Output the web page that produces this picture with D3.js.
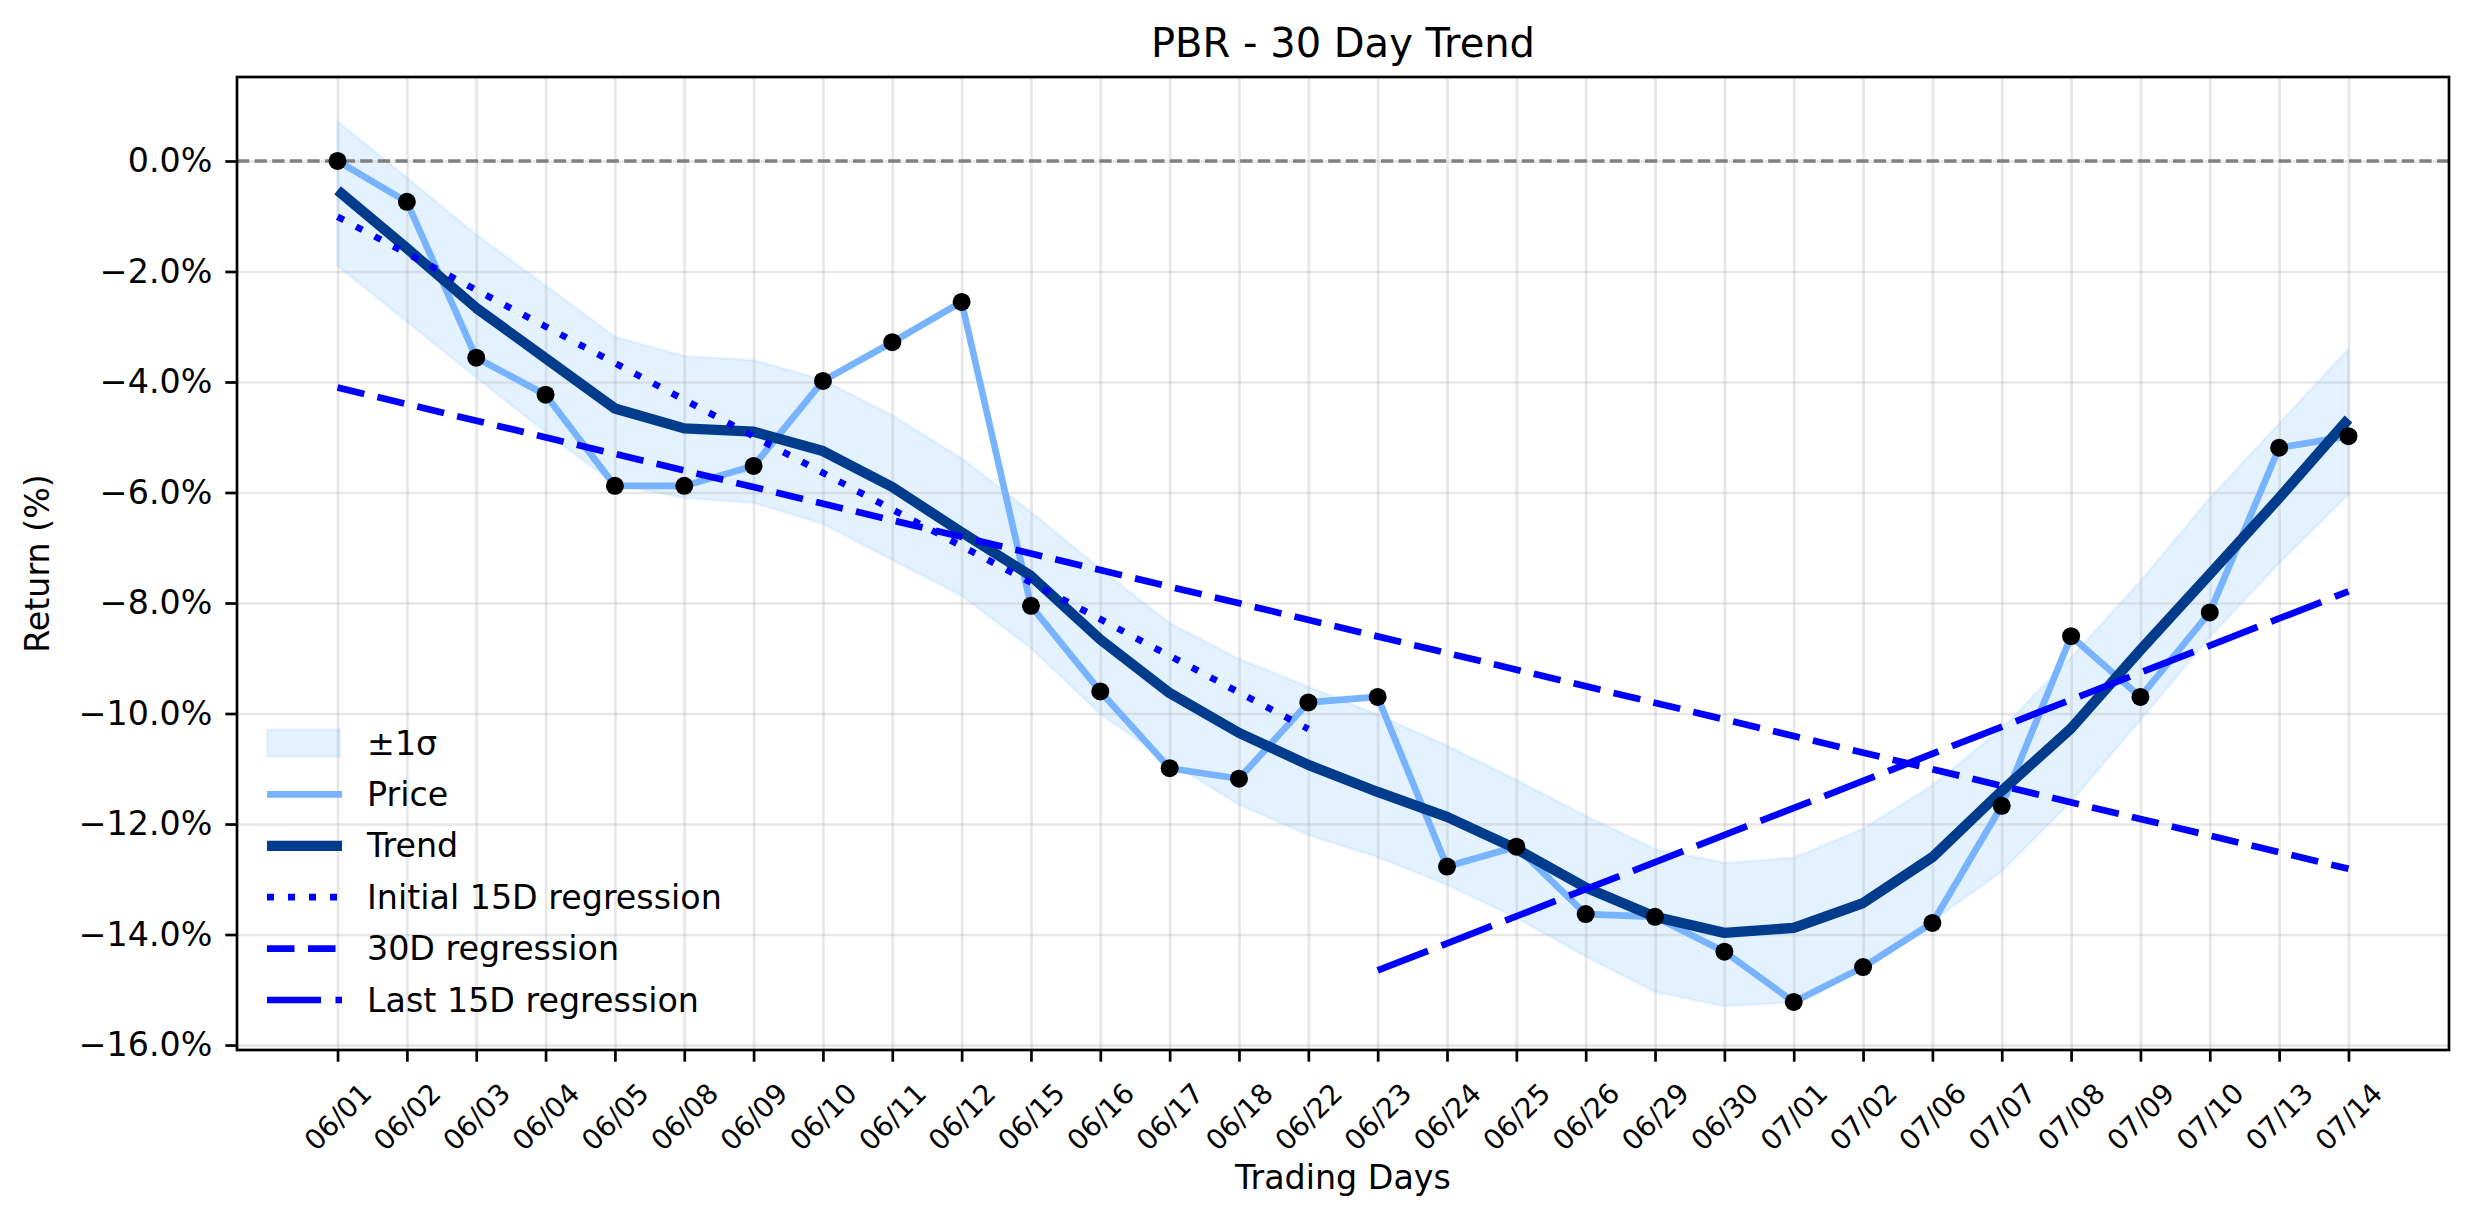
<!DOCTYPE html>
<html>
<head>
<meta charset="utf-8">
<script src="https://cdn.jsdelivr.net/npm/d3@7"></script>
<style>
  body { margin: 0; background: #fff; }
  text { font-family: "DejaVu Sans", sans-serif; }
</style>
</head>
<body>
<div id="chart"></div>
<script>
// trading days shown on the x axis
var dates = ["06/01","06/02","06/03","06/04","06/05","06/08","06/09","06/10","06/11","06/12",
	"06/15","06/16","06/17","06/18","06/22","06/23","06/24","06/25","06/26","06/29",
	"06/30","07/01","07/02","07/06","07/07","07/08","07/09","07/10","07/13","07/14"];

// cumulative return (%) of the price
var price = [0.00, -0.74, -3.56, -4.23, -5.88, -5.88, -5.52, -3.98, -3.28, -2.55,
	-8.05, -9.60, -10.99, -11.18, -9.80, -9.70, -12.77, -12.41, -13.63, -13.68,
	-14.31, -15.22, -14.59, -13.79, -11.67, -8.60, -9.70, -8.17, -5.19, -4.98];

// smoothed trend (%)
var trend = [-0.53, -1.58, -2.66, -3.57, -4.48, -4.84, -4.90, -5.25, -5.90, -6.72,
	-7.51, -8.66, -9.63, -10.35, -10.93, -11.42, -11.87, -12.45, -13.15, -13.68,
	-13.97, -13.88, -13.43, -12.60, -11.40, -10.27, -8.85, -7.48, -6.10, -4.67];

// +/- 1 sigma band edges (%)
var bandUpper = [0.72, -0.30, -1.33, -2.25, -3.18, -3.53, -3.60, -3.96, -4.60, -5.38,
	-6.35, -7.38, -8.36, -9.01, -9.51, -10.02, -10.58, -11.20, -11.85, -12.45,
	-12.70, -12.61, -12.08, -11.30, -10.27, -8.98, -7.60, -6.10, -4.75, -3.40];
var bandLower = [-1.90, -2.91, -3.92, -4.91, -5.85, -6.10, -6.19, -6.57, -7.22, -7.87,
	-8.82, -10.01, -10.88, -11.65, -12.20, -12.60, -13.10, -13.70, -14.40, -15.04,
	-15.30, -15.23, -14.60, -13.76, -12.86, -11.60, -10.12, -8.62, -7.28, -6.04];

// regression lines: [start day index, end day index] and [start value, end value]
var initialRegDays = [0, 14],  initialRegVals = [-1.01, -10.28];
var fullRegDays = [0, 29],     fullRegVals = [-4.10, -12.81];
var lastRegDays = [15, 29],    lastRegVals = [-14.65, -7.79];

var yTicks = d3.range(-16, 1, 2);
var legendLabels = ["\u00b11\u03c3", "Price", "Trend", "Initial 15D regression", "30D regression", "Last 15D regression"];

const width = 2474;
const height = 1224;
// plot area edges
var pLeft = 237, pRight = 2449, pTop = 77, pBottom = 1050;

var svg = d3.select("#chart")
	.append("svg")
	.attr("width", width)
	.attr("height", height)
	.style("background", "#fff");

var x = d3.scaleLinear()
	.domain([-1.45, dates.length - 1 + 1.45])
	.range([pLeft, pRight]);

var y = d3.scaleLinear()
	.domain([-16.09, 1.52])
	.range([pBottom, pTop]);

// sigma band
var area = d3.area()
	.x(function (d, i) { return x(i); })
	.y0(function (d, i) { return y(bandLower[i]); })
	.y1(function (d) { return y(d); });

svg.append("path")
	.datum(bandUpper)
	.attr("d", area)
	.attr("fill", "rgb(30,144,255)")
	.attr("fill-opacity", 0.12)
	.attr("stroke", "rgb(30,144,255)")
	.attr("stroke-opacity", 0.07)
	.attr("stroke-width", 3);

// grid
var gridX = svg.append("g")
	.attr("transform", "translate(0," + pBottom + ")")
	.call(d3.axisBottom(x).tickValues(d3.range(dates.length)).tickSize(-(pBottom - pTop)).tickFormat(""));
var gridY = svg.append("g")
	.attr("transform", "translate(" + pLeft + ",0)")
	.call(d3.axisLeft(y).tickValues(yTicks).tickSize(-(pRight - pLeft)).tickFormat(""));
[gridX, gridY].forEach(function (g) {
	g.select(".domain").remove();
	g.selectAll("line").attr("stroke", "#b0b0b0").attr("stroke-opacity", 0.3).attr("stroke-width", 2.7);
});

// zero line
svg.append("line")
	.attr("x1", pLeft).attr("x2", pRight)
	.attr("y1", y(0)).attr("y2", y(0))
	.attr("stroke", "#808080")
	.attr("stroke-width", 3.3)
	.attr("stroke-dasharray", "12.3,5.3");

var line = d3.line()
	.x(function (d, i) { return x(i); })
	.y(function (d) { return y(d); });

svg.append("path")
	.datum(price)
	.attr("d", line)
	.attr("fill", "none")
	.attr("stroke", "#77b3ff")
	.attr("stroke-width", 6.7)
	.attr("stroke-linejoin", "round");

svg.append("path")
	.datum(trend)
	.attr("d", line)
	.attr("fill", "none")
	.attr("stroke", "#003b8c")
	.attr("stroke-width", 10.3)
	.attr("stroke-linejoin", "round");

// regression lines
var segLine = d3.line()
	.x(function (d) { return x(d[0]); })
	.y(function (d) { return y(d[1]); });

var regs = [
	{days: initialRegDays, vals: initialRegVals, dash: "7,14"},
	{days: fullRegDays, vals: fullRegVals, dash: "27.5,13.5"},
	{days: lastRegDays, vals: lastRegVals, dash: "54,14.5"}
];

regs.forEach(function (r) {
	svg.append("path")
		.datum([[r.days[0], r.vals[0]], [r.days[1], r.vals[1]]])
		.attr("d", segLine)
		.attr("fill", "none")
		.attr("stroke", "#0000ff")
		.attr("stroke-width", 6.7)
		.attr("stroke-dasharray", r.dash);
});

// price markers
svg.append("g")
	.selectAll("circle")
	.data(price)
	.enter().append("circle")
	.attr("cx", function (d, i) { return x(i); })
	.attr("cy", function (d) { return y(d); })
	.attr("r", 9)
	.attr("fill", "#000");

// axes
var xAxis = svg.append("g")
	.attr("transform", "translate(0," + pBottom + ")")
	.call(d3.axisBottom(x)
		.tickValues(d3.range(dates.length))
		.tickFormat(function (i) { return dates[i]; })
		.tickSize(11.7));
xAxis.select(".domain").remove();
xAxis.selectAll("line").attr("stroke", "#000").attr("stroke-width", 2.7);
xAxis.selectAll("text")
	.attr("y", null)
	.attr("dy", null)
	.attr("font-size", "28px")
	.attr("fill", "#000")
	.attr("text-anchor", "middle")
	.attr("dominant-baseline", "central")
	.attr("transform", "translate(0,67) rotate(-45)");

var yAxis = svg.append("g")
	.attr("transform", "translate(" + pLeft + ",0)")
	.call(d3.axisLeft(y)
		.tickValues(yTicks)
		.tickFormat(function (d) { return (d < 0 ? "\u2212" : "") + Math.abs(d).toFixed(1) + "%"; })
		.tickSize(11.7)
		.tickPadding(13));
yAxis.select(".domain").remove();
yAxis.selectAll("line").attr("stroke", "#000").attr("stroke-width", 2.7);
yAxis.selectAll("text").attr("font-size", "33.3px").attr("fill", "#000");

// frame
svg.append("rect")
	.attr("x", pLeft).attr("y", pTop)
	.attr("width", pRight - pLeft).attr("height", pBottom - pTop)
	.attr("fill", "none")
	.attr("stroke", "#000")
	.attr("stroke-width", 2.7);

// titles
svg.append("text")
	.attr("x", (pLeft + pRight) / 2).attr("y", 57)
	.attr("text-anchor", "middle")
	.attr("font-size", "40px")
	.text("PBR - 30 Day Trend");

svg.append("text")
	.attr("x", (pLeft + pRight) / 2).attr("y", 1189)
	.attr("text-anchor", "middle")
	.attr("font-size", "33.3px")
	.text("Trading Days");

svg.append("text")
	.attr("transform", "translate(49," + (pTop + pBottom) / 2 + ") rotate(-90)")
	.attr("text-anchor", "middle")
	.attr("font-size", "33.3px")
	.text("Return (%)");

// legend (no frame)
var legend = svg.append("g");
var legendStyles = [
	{type: "patch"},
	{color: "#77b3ff", w: 6.7, dash: null},
	{color: "#003b8c", w: 10.3, dash: null},
	{color: "#0000ff", w: 6.7, dash: "7,14"},
	{color: "#0000ff", w: 6.7, dash: "27.5,13.5"},
	{color: "#0000ff", w: 6.7, dash: "54,14.5"}
];

legendLabels.forEach(function (label, i) {
	var cy = 743 + i * 51.4;
	var s = legendStyles[i];
	if (s.type === "patch") {
		legend.append("rect")
			.attr("x", 267).attr("y", cy - 13.5)
			.attr("width", 73).attr("height", 27)
			.attr("fill", "rgb(30,144,255)").attr("fill-opacity", 0.12)
			.attr("stroke", "rgb(30,144,255)").attr("stroke-opacity", 0.07)
			.attr("stroke-width", 3);
	} else {
		legend.append("line")
			.attr("x1", 267).attr("x2", 342)
			.attr("y1", cy).attr("y2", cy)
			.attr("stroke", s.color)
			.attr("stroke-width", s.w)
			.attr("stroke-dasharray", s.dash);
	}
	legend.append("text")
		.attr("x", 367).attr("y", cy)
		.attr("dominant-baseline", "central")
		.attr("font-size", "33.3px")
		.text(label);
});
</script>
</body>
</html>
